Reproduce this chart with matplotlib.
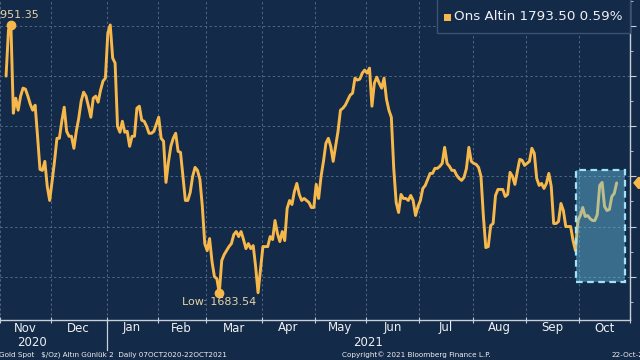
import numpy as np
import pandas as pd
import matplotlib
matplotlib.use("Agg")
import matplotlib.pyplot as plt
from matplotlib.patches import Rectangle, Polygon
from matplotlib.lines import Line2D
import matplotlib.transforms as mtransforms

# ---------------- data ----------------
series_start = "2020-10-07"      # first day of the Bloomberg series
first_shown = "2020-11-04"       # first business day visible in the crop
price = [
    1900, 1946, 1951.35, 1863, 1878, 1866, 1880, 1888, 1887, 1880,
    1872, 1866, 1871, 1840, 1807, 1806, 1815, 1790, 1776, 1795,
    1815, 1838, 1838, 1855, 1869, 1845, 1840, 1840, 1828, 1845,
    1858, 1875, 1884, 1880, 1870, 1859, 1878, 1880, 1874, 1886,
    1895, 1898, 1943, 1951, 1918, 1913, 1850, 1844, 1855, 1844,
    1845, 1830, 1840, 1840, 1868, 1870, 1856, 1855, 1850, 1843,
    1843, 1845, 1852, 1859, 1838, 1835, 1794, 1814, 1830, 1838,
    1843, 1825, 1824, 1800, 1776, 1776, 1784, 1800, 1809, 1806,
    1797, 1770, 1733, 1726, 1738, 1715, 1700, 1698, 1683.54, 1716,
    1722, 1726, 1730, 1733, 1742, 1745, 1740, 1745, 1737, 1728,
    1733, 1728, 1731, 1710, 1684, 1707, 1730, 1730, 1730, 1740,
    1737, 1756, 1743, 1735, 1745, 1736, 1768, 1776, 1772, 1785,
    1793, 1782, 1776, 1778, 1776, 1774, 1769, 1769, 1792, 1778,
    1800, 1815, 1833, 1838, 1830, 1815, 1830, 1845, 1866, 1868,
    1871, 1876, 1881, 1883, 1898, 1896, 1897, 1903, 1906, 1903,
    1908, 1870, 1893, 1899, 1893, 1888, 1898, 1877, 1866, 1859,
    1808, 1774, 1764, 1782, 1778, 1778, 1776, 1781, 1776, 1761,
    1770, 1776, 1788, 1791, 1797, 1803, 1803, 1808, 1808, 1810,
    1813, 1829, 1813, 1810, 1806, 1806, 1801, 1798, 1796, 1799,
    1808, 1829, 1815, 1813, 1812, 1809, 1800, 1760, 1729, 1730,
    1751, 1753, 1781, 1787, 1787, 1787, 1780, 1782, 1804, 1800,
    1792, 1805, 1817, 1816, 1811, 1813, 1815, 1828, 1823, 1798,
    1791, 1793, 1788, 1793, 1803, 1790, 1753, 1753, 1755, 1773,
    1766, 1750, 1750, 1750, 1736, 1726, 1756, 1761, 1769, 1760,
    1761, 1758, 1756, 1756, 1762, 1791, 1794, 1770, 1766, 1767,
    1780, 1783, 1793.50,
]
month_labels = ["Nov", "Dec", "Jan", "Feb", "Mar", "Apr", "May", "Jun",
                "Jul", "Aug", "Sep", "Oct"]
month_starts = ["2020-11-01", "2020-12-01", "2021-01-01", "2021-02-01",
                "2021-03-01", "2021-04-01", "2021-05-01", "2021-06-01",
                "2021-07-01", "2021-08-01", "2021-09-01", "2021-10-01",
                "2021-11-01"]
year_labels = ["2020", "2021"]
year_starts = ["2020-10-07", "2021-01-01"]
y_ticks = [1700, 1750, 1800, 1850, 1900, 1950]
high_date, high_value = "2020-11-06", 1951.35
low_date, low_value = "2021-03-08", 1683.54
last_value, last_change = 1793.50, 0.59
legend_name = "Ons Altin"
footer_left = "Gold Spot   $/Oz) Altın Günlük 2  Daily 07OCT2020-22OCT2021"
footer_mid = "Copyright\u00a9 2021 Bloomberg Finance L.P."
footer_right = "22-Oct-2021"

# ---------------- style ----------------
BG = "#132a48"
LINE = "#f7b84b"
GRID = "#4f6584"
AXIS = "#c9cfd8"
TXT = "#eef0f3"
ANN = "#e8d3a5"
NARROW = ["Liberation Sans Narrow", "DejaVu Sans"]


def bday(d):
    return np.busday_count(series_start, np.array(d, dtype="datetime64[D]"))


dates = pd.bdate_range(first_shown, periods=len(price))
x = bday(dates.values.astype("datetime64[D]"))

fig = plt.figure(figsize=(6.4, 3.6), dpi=100)
fig.patch.set_facecolor(BG)
ax = fig.add_axes([0, 40 / 360, 630 / 640, 320 / 360])
ax.set_facecolor(BG)

XMIN, XMAX = 20.2, 276.9
ax.set_xlim(XMIN, XMAX)
ax.set_ylim(1656.8, 1975.9)

ax.plot(x, price, color=LINE, lw=2.1, solid_joinstyle="round",
        solid_capstyle="round", zorder=3)

# grid
bounds = bday(month_starts) - 0.5
ax.set_xticks(bounds)
ax.set_xticklabels([])
ax.set_yticks(y_ticks)
ax.set_yticks(np.arange(1675, 1976, 25), minor=True)
ax.grid(True, which="major", color=GRID, lw=0.7, ls=(0, (2.5, 2.5)))
ax.set_axisbelow(True)

for s in ["left", "top"]:
    ax.spines[s].set_visible(False)
for s in ["bottom", "right"]:
    ax.spines[s].set_color(AXIS)
    ax.spines[s].set_linewidth(1.0)

ax.yaxis.tick_right()
ax.tick_params(axis="y", which="major", direction="out", length=4,
               color=AXIS, labelright=False)
ax.tick_params(axis="y", which="minor", direction="out", length=2,
               color=AXIS)
ax.tick_params(axis="x", which="major", direction="inout", length=5,
               color=AXIS)

trans = mtransforms.blended_transform_factory(ax.transData, ax.transAxes)
# month labels
for i, lab in enumerate(month_labels):
    c = (bounds[i] + bounds[i + 1]) / 2
    ax.text(c, -8 / 320, lab, transform=trans, ha="center", va="center",
            color=TXT, fontsize=8.5, clip_on=False)
# year labels
ystarts = bday(year_starts) - 0.5
yc = [(ystarts[0] + ystarts[1]) / 2, (ystarts[1] + XMAX) / 2]
for c, lab in zip(yc, year_labels):
    ax.text(c, -22 / 320, lab, transform=trans, ha="center", va="center",
            color=TXT, fontsize=8.5, clip_on=False)
# year separator
ax.add_line(Line2D([ystarts[1], ystarts[1]], [0, -30 / 320], transform=trans,
                   color=AXIS, lw=0.9, clip_on=False))

# high / low annotations
hx = bday(high_date)
lx = bday(low_date)
ax.plot([hx], [high_value], "o", color=LINE, ms=6, zorder=5)
ax.plot([lx], [low_value], "o", color=LINE, ms=6, zorder=5, clip_on=False)
ax.annotate(f"{high_value:.2f}", xy=(hx, high_value), xytext=(29 * 0.72, 10 * 0.72),
            textcoords="offset points", ha="right", va="center",
            color=ANN, fontsize=8, zorder=6)
ax.annotate(f"Low: {low_value:.2f}", xy=(lx, low_value), xytext=(0, -9 * 0.72),
            textcoords="offset points", ha="center", va="center",
            color=ANN, fontsize=8, zorder=6, annotation_clip=False)

# highlight box (Bloomberg drawing)
box = Rectangle((255.4, 1695.0), 20.0, 111.0,
                facecolor=(0.43, 0.78, 0.90, 0.42), edgecolor="#9fe3f6",
                lw=1.6, ls=(0, (3, 2)), zorder=4)
ax.add_patch(box)


# legend box (figure pixel coords)
def fx(px):
    return px / 640


def fy(py):
    return 1 - py / 360


fig.patches.append(Rectangle((fx(437), fy(33)), fx(630) - fx(437), fy(-2) - fy(33),
                             transform=fig.transFigure, facecolor=BG,
                             edgecolor="#3b5274", lw=1.0, zorder=5))
fig.patches.append(Rectangle((fx(444), fy(21)), 7 / 640, 7 / 360,
                             transform=fig.transFigure, facecolor=LINE,
                             edgecolor="none", zorder=6))
fig.text(fx(454), fy(17), f"{legend_name} {last_value:.2f} {last_change:.2f}%",
         color=TXT, fontsize=9.7, ha="left", va="center", zorder=7)

# last-price tag at right edge
ty = ax.transData.transform((0, last_value))[1]
tag = Polygon([(633, ty), (638, ty - 6), (650, ty - 6), (650, ty + 6), (638, ty + 6)],
              closed=True, transform=None, facecolor=LINE, edgecolor="none")
fig.patches.append(tag)

# footer
fig.text(fx(-1), fy(355), footer_left, color=TXT, fontsize=5.2,
         ha="left", va="center", family=NARROW)
fig.text(fx(342), fy(355), footer_mid, color=TXT, fontsize=5.2,
         ha="left", va="center", family=NARROW)
fig.text(fx(611), fy(355), footer_right, color=TXT, fontsize=5.2,
         ha="left", va="center", family=NARROW)

fig.savefig("out.png", dpi=100, facecolor=BG)
